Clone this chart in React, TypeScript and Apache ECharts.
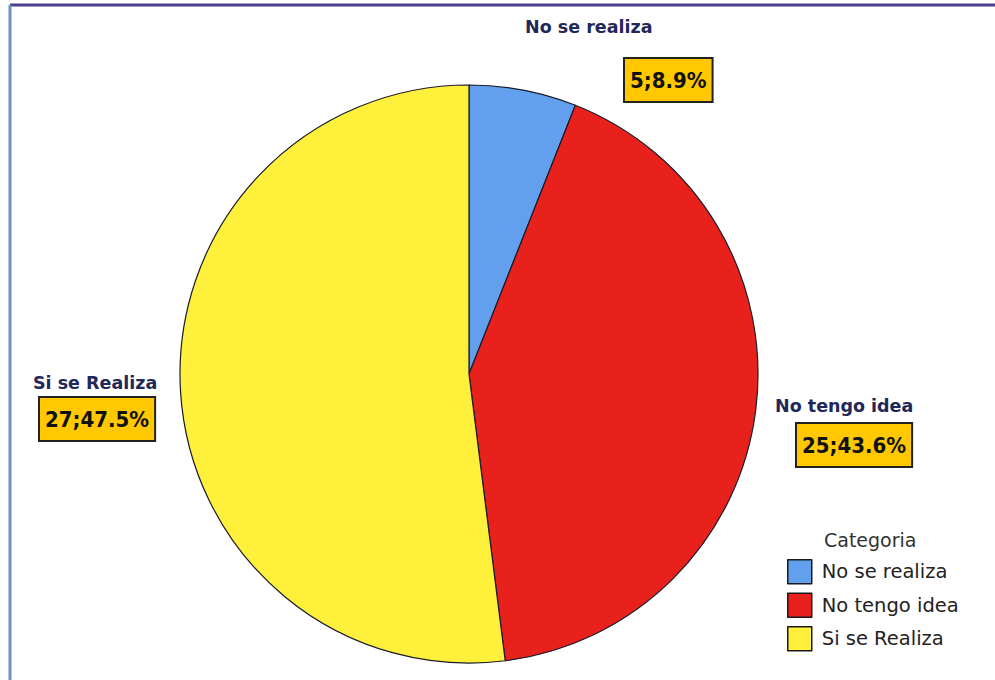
import React, { useEffect, useRef } from "react";
import * as echarts from "echarts";

const categories = ["No se realiza", "No tengo idea", "Si se Realiza"];
const counts = [5, 25, 27];
const percentLabels = ["8.9", "43.6", "47.5"];
// slice sizes as drawn in the reference (angles)
const sliceShares = [6.0, 42.0, 52.0];
const colors = ["#62A0EE", "#E8211D", "#FFF03C"];
const legendTitle = "Categoria";

// per-slice label placement: top-left, name line height, box indent
const labelPos = [
  { x: 525, y: -15, lh: 84, gap: 100 },
  { x: 775, y: 378, lh: 56, gap: 22 },
  { x: 33, y: 358, lh: 50, gap: 7 },
];

export default function App() {
  const ref = useRef<HTMLDivElement>(null);
  useEffect(() => {
    if (!ref.current) return;
    const chart = echarts.init(ref.current, null, { renderer: "svg" });
    const nameStyle = (lh: number) => ({
      fontFamily: "'DejaVu Sans', sans-serif",
      fontSize: 17.5,
      fontWeight: "bold",
      color: "#1f2858",
      lineHeight: lh,
    });
    chart.setOption({
      animation: false,
      backgroundColor: "#ffffff",
      title: {
        text: legendTitle,
        left: 819,
        top: 525,
        textStyle: { fontFamily: "'DejaVu Sans', sans-serif", fontSize: 19, fontWeight: "normal", color: "#333" },
      },
      legend: {
        orient: "vertical",
        left: 782,
        top: 554,
        itemWidth: 24,
        itemHeight: 24,
        itemGap: 8,
        icon: "rect",
        data: categories,
        itemStyle: { borderColor: "#1a1a1a", borderWidth: 1.5 },
        textStyle: { fontFamily: "'DejaVu Sans', sans-serif", fontSize: 19.5, color: "#222", padding: [0, 0, 0, 5] },
      },
      graphic: [
        { type: "line", shape: { x1: 10, y1: 5, x2: 995, y2: 5 }, style: { stroke: "#4b3f8c", lineWidth: 3 } },
        { type: "line", shape: { x1: 10, y1: 5, x2: 10, y2: 680 }, style: { stroke: "#6b93c4", lineWidth: 3 } },
      ],
      series: [
        {
          type: "pie",
          center: [469, 374],
          radius: 289,
          startAngle: 90,
          clockwise: true,
          data: categories.map((c, i) => ({
            name: c,
            value: sliceShares[i],
            itemStyle: { color: colors[i] },
          })),
          itemStyle: { borderColor: "#1b1b2a", borderWidth: 1.2 },
          labelLine: { show: false },
          label: {
            show: true,
            position: "outside",
            overflow: "none",
            formatter: (p: any) => {
              const i = p.dataIndex;
              return `{name${i}|${categories[i]}}\n{gap${i}| }{box|${counts[i]};${percentLabels[i]}%}`;
            },
            rich: {
              name0: nameStyle(labelPos[0].lh),
              name1: nameStyle(labelPos[1].lh),
              name2: nameStyle(labelPos[2].lh),
              gap0: { width: labelPos[0].gap, fontSize: 10 },
              gap1: { width: labelPos[1].gap, fontSize: 10 },
              gap2: { width: labelPos[2].gap, fontSize: 10 },
              box: {
                fontFamily: "'Liberation Sans Narrow', 'DejaVu Sans Condensed', sans-serif",
                fontSize: 22,
                fontWeight: "bold",
                color: "#111",
                backgroundColor: "#FFC800",
                borderColor: "#222",
                borderWidth: 2,
                lineHeight: 22,
                padding: [10, 5, 10, 5],
              },
            },
          },
          labelLayout: (params: any) => {
            const pos = labelPos[params.dataIndex];
            return { x: pos.x, y: pos.y, align: "left", verticalAlign: "top", width: 220 };
          },
        },
      ],
    });
    return () => chart.dispose();
  }, []);
  return (
    <div
      ref={ref}
      style={{ position: "fixed", left: 0, top: 0, width: 995, height: 680 }}
    />
  );
}
